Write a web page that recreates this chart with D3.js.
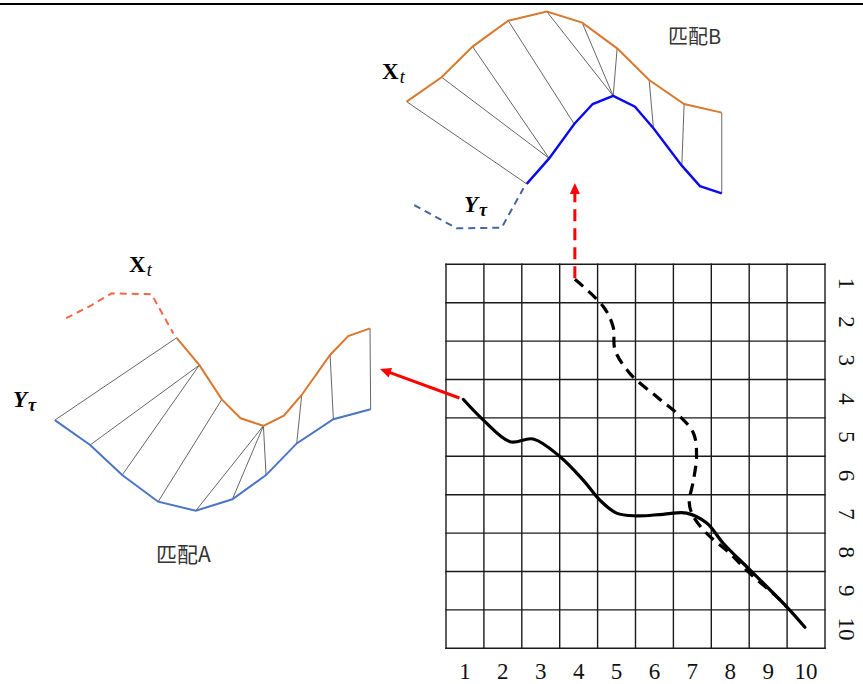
<!DOCTYPE html>
<html><head><meta charset="utf-8">
<script src="https://cdn.jsdelivr.net/npm/d3@7"></script>
<style>
html,body{margin:0;padding:0;background:#fff;}
svg{display:block;}
</style></head>
<body>
<script>
// ---------- DATA ----------
// grid (alignment matrix) tick labels
const colLabels = [1,2,3,4,5,6,7,8,9,10];
const rowLabels = [1,2,3,4,5,6,7,8,9,10];
// warping path A (solid) in grid units: column, row
const pathACol = [0.96,1.48,2.19,2.80,3.51,4.12,4.56,5.00,5.53,6.23,6.85,7.38,7.82,8.52,9.49,9.97];
const pathARow = [4.02,4.55,5.12,5.05,5.51,6.12,6.64,6.98,7.05,7.01,6.98,7.24,7.77,8.46,9.42,9.95];
// warping path B (dashed)
const pathBCol = [3.90,4.65,4.91,4.96,5.35,6.06,6.59,7.03,7.11,7.03,6.92,7.03,7.38,7.99,8.52,9.23,9.49];
const pathBRow = [0.89,1.60,2.13,2.73,3.34,3.95,4.38,4.90,5.51,6.12,6.72,7.07,7.51,8.03,8.55,9.16,9.42];

// Match B: X_t (orange) and Y_tau (blue)
const bXPos = [2.0,12.6,22.0,32.8,44.5,55.2,65.8,75.5,86.1,97.5];
const bXVal = [62.9,74.0,87.9,99.7,103.8,98.8,87.1,72.7,61.8,57.9];
const bYPos = [38.4,45.2,52.8,58.4,64.6,71.2,76.8,85.4,90.9,97.5];
const bYVal = [25.5,37.1,52.7,61.8,65.5,60.6,50.8,33.8,24.5,21.2];
const bYDashPos = [4.3,17.2,30.8,37.4];
const bYDashVal = [15.9,5.3,5.6,23.5];
const bMatchX = [0,1,2,3,4,5,6,7,8,9];
const bMatchY = [0,1,1,2,4,4,4,6,7,9];

// Match A
const aXDashPos = [7.9,15.7,21.7,33.8,40.4];
const aXDashVal = [109.9,115.9,121.2,120.8,103.0];
const aXPos = [41.4,48.3,55.1,60.8,67.7,73.9,79.3,87.9,93.4,100.0];
const aXVal = [101.0,88.6,73.0,64.4,61.0,65.6,75.0,93.2,101.8,105.3];
const aYPos = [4.5,15.2,24.9,35.8,47.2,58.3,68.5,77.8,88.9,100.2];
const aYVal = [63.6,52.3,38.6,26.5,22.4,27.6,38.6,53.0,64.0,68.5];
const aMatchX = [0,1,1,2,4,4,4,6,7,9];
const aMatchY = [0,1,2,3,4,5,6,7,8,9];

// ---------- DRAW ----------
const W = 863, H = 684;
const svg = d3.select("body").append("svg").attr("width", W).attr("height", H);

// top rule
svg.append("line").attr("x1",0).attr("x2",W).attr("y1",4).attr("y2",4)
  .attr("stroke","#000").attr("stroke-width",2.2);

// grid scales
const gx = d3.scaleLinear().domain([0.5,10.5]).range([446,825]);
const gy = d3.scaleLinear().domain([0.5,10.5]).range([264.3,648.3]);
const bounds = d3.range(11).map(k => k + 0.5);
const grid = svg.append("g");
grid.selectAll(".v").data(bounds).join("line")
  .attr("x1",d=>gx(d)).attr("x2",d=>gx(d)).attr("y1",gy(0.5)-0.7).attr("y2",gy(10.5)+0.7)
  .attr("stroke","#1a1a1a").attr("stroke-width",1.4);
grid.selectAll(".h").data(bounds).join("line")
  .attr("y1",d=>gy(d)).attr("y2",d=>gy(d)).attr("x1",gx(0.5)-0.7).attr("x2",gx(10.5)+0.7)
  .attr("stroke","#1a1a1a").attr("stroke-width",1.4);

// axis labels
svg.append("g").selectAll("text").data(colLabels).join("text")
  .attr("x",d=>gx(d)).attr("y",679).attr("text-anchor","middle")
  .attr("font-family","'Liberation Serif','Times New Roman',serif").attr("font-size",23)
  .attr("fill","#111").text(d=>d);
svg.append("g").selectAll("text").data(rowLabels).join("text")
  .attr("transform",d=>`translate(839,${gy(d)}) rotate(90)`).attr("text-anchor","middle")
  .attr("font-family","'Liberation Serif','Times New Roman',serif").attr("font-size",23)
  .attr("fill","#111").text(d=>d);

// warping paths
const gline = d3.line().x(d=>gx(d[0])).y(d=>gy(d[1])).curve(d3.curveCatmullRom.alpha(0.5));
svg.append("path").datum(pathACol.map((c,i)=>[c,pathARow[i]]))
  .attr("d",gline).attr("fill","none").attr("stroke","#000").attr("stroke-width",3.2)
  .attr("stroke-linecap","round");
svg.append("path").datum(pathBCol.map((c,i)=>[c,pathBRow[i]]))
  .attr("d",gline).attr("fill","none").attr("stroke","#000").attr("stroke-width",3.2)
  .attr("stroke-dasharray","11,7");

// red arrows
function arrow(x1,y1,x2,y2,dash){
  const dx=x2-x1, dy=y2-y1, L=Math.hypot(dx,dy), ux=dx/L, uy=dy/L;
  const hl=11, hw=5;
  const bx=x2-ux*hl, by=y2-uy*hl;
  svg.append("line").attr("x1",x1).attr("y1",y1).attr("x2",bx+ux).attr("y2",by+uy)
    .attr("stroke","#f00").attr("stroke-width",3).attr("stroke-dasharray",dash||null);
  svg.append("path").attr("d",`M${x2},${y2}L${bx-uy*hw},${by+ux*hw}L${bx+uy*hw},${by-ux*hw}Z`)
    .attr("fill","#f00");
}
arrow(gx(pathBCol[0]), gy(pathBRow[0])-1, gx(pathBCol[0]), 183, "12,7");
arrow(gx(pathACol[0])-4, gy(pathARow[0])-1.5, 380, 369);

// panel B
const xB = d3.scaleLinear().domain([0,100]).range([400,730]);
const yB = d3.scaleLinear().domain([0,100]).range([240,20]);
const lineB = d3.line().x(d=>xB(d[0])).y(d=>yB(d[1]));
const bX = bXPos.map((p,i)=>[p,bXVal[i]]);
const bY = bYPos.map((p,i)=>[p,bYVal[i]]);
svg.append("g").selectAll("line").data(bMatchX).join("line")
  .attr("x1",(d)=>xB(bX[d][0])).attr("y1",d=>yB(bX[d][1]))
  .attr("x2",(d,i)=>xB(bY[bMatchY[i]][0])).attr("y2",(d,i)=>yB(bY[bMatchY[i]][1]))
  .attr("stroke","#555").attr("stroke-width",0.9);
svg.append("path").datum(bX).attr("d",lineB).attr("fill","none").attr("stroke","#d9782f").attr("stroke-width",2);
svg.append("path").datum(bY).attr("d",lineB).attr("fill","none").attr("stroke","#0a0af0").attr("stroke-width",2.4);
svg.append("path").datum(bYDashPos.map((p,i)=>[p,bYDashVal[i]])).attr("d",lineB)
  .attr("fill","none").attr("stroke","#44679e").attr("stroke-width",2).attr("stroke-dasharray","7,5");

// panel A
const xA = d3.scaleLinear().domain([0,100]).range([40,370]);
const yA = d3.scaleLinear().domain([0,100]).range([560,340]);
const lineA = d3.line().x(d=>xA(d[0])).y(d=>yA(d[1]));
const aX = aXPos.map((p,i)=>[p,aXVal[i]]);
const aY = aYPos.map((p,i)=>[p,aYVal[i]]);
svg.append("g").selectAll("line").data(aMatchX).join("line")
  .attr("x1",d=>xA(aX[d][0])).attr("y1",d=>yA(aX[d][1]))
  .attr("x2",(d,i)=>xA(aY[aMatchY[i]][0])).attr("y2",(d,i)=>yA(aY[aMatchY[i]][1]))
  .attr("stroke","#555").attr("stroke-width",0.9);
svg.append("path").datum(aXDashPos.map((p,i)=>[p,aXDashVal[i]])).attr("d",lineA)
  .attr("fill","none").attr("stroke","#f0674a").attr("stroke-width",2).attr("stroke-dasharray","7,5");
svg.append("path").datum(aX).attr("d",lineA).attr("fill","none").attr("stroke","#d9782f").attr("stroke-width",2);
svg.append("path").datum(aY).attr("d",lineA).attr("fill","none").attr("stroke","#4a74c4").attr("stroke-width",2);

// labels
const serif = "'Liberation Serif','Times New Roman',serif";
function lblX(x,y){
  const t = svg.append("text").attr("x",x).attr("y",y).attr("font-family",serif).attr("fill","#000");
  t.append("tspan").attr("font-weight","bold").attr("font-size",23).text("X");
  t.append("tspan").attr("font-style","italic").attr("font-size",18).attr("dy",4).attr("dx",1).text("t");
}
function lblY(x,y){
  const t = svg.append("text").attr("x",x).attr("y",y).attr("font-family",serif).attr("fill","#000");
  t.append("tspan").attr("font-weight","bold").attr("font-style","italic").attr("font-size",23).text("Y");
  t.append("tspan").attr("font-weight","bold").attr("font-style","italic").attr("font-size",18).attr("dy",4).attr("dx",1).text("τ");
}
lblX(382,78.5);
lblY(464,211.5);
lblX(129,271.5);
lblY(13,406.5);
const cjk = "'Noto Sans CJK SC','Noto Sans',sans-serif";
svg.append("text").attr("x",668).attr("y",44).attr("font-family",cjk).attr("font-size",20)
  .attr("fill","#333").text("匹配B");
svg.append("text").attr("x",156).attr("y",562).attr("font-family",cjk).attr("font-size",21)
  .attr("fill","#333").text("匹配A");
</script>
</body></html>
